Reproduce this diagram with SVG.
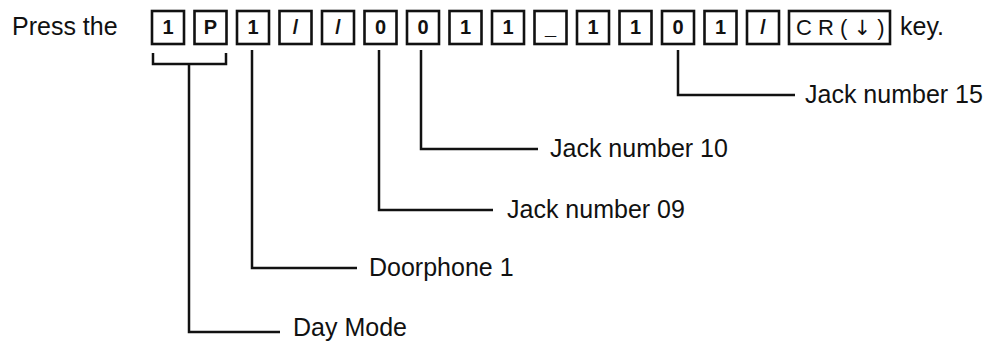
<svg xmlns="http://www.w3.org/2000/svg" width="997" height="342" viewBox="0 0 997 342">
<style>
.t{font-family:"Liberation Sans",Arial,sans-serif;font-size:25px;fill:#111}
.k{fill:#fff;stroke:#111;stroke-width:2.6}
.kt{font-family:"Liberation Sans",Arial,sans-serif;font-size:20px;font-weight:bold;fill:#111;text-anchor:middle}
.cr{font-family:"Liberation Sans",sans-serif;font-size:22px;fill:#111}
.ar{font-family:"DejaVu Sans",sans-serif;fill:#111}
.c{fill:none;stroke:#111;stroke-width:2.5}
</style>
<rect width="997" height="342" fill="#fff"/>
<g id="prefix"><text class="t" x="12" y="35">Press the</text></g>
<g id="keys">
<g id="k1"><rect class="k" x="152" y="11" width="32" height="33"/><text class="kt" x="168" y="34">1</text></g>
<g id="k2"><rect class="k" x="194.5" y="11" width="32" height="33"/><text class="kt" x="210.5" y="34">P</text></g>
<g id="k3"><rect class="k" x="237" y="11" width="32" height="33"/><text class="kt" x="253" y="34">1</text></g>
<g id="k4"><rect class="k" x="279.5" y="11" width="32" height="33"/><text class="kt" x="295.5" y="34">/</text></g>
<g id="k5"><rect class="k" x="322" y="11" width="32" height="33"/><text class="kt" x="338" y="34">/</text></g>
<g id="k6"><rect class="k" x="364.5" y="11" width="32" height="33"/><text class="kt" x="380.5" y="34">0</text></g>
<g id="k7"><rect class="k" x="407" y="11" width="32" height="33"/><text class="kt" x="423" y="34">0</text></g>
<g id="k8"><rect class="k" x="449.5" y="11" width="32" height="33"/><text class="kt" x="465.5" y="34">1</text></g>
<g id="k9"><rect class="k" x="492" y="11" width="32" height="33"/><text class="kt" x="508" y="34">1</text></g>
<g id="k10"><rect class="k" x="534.5" y="11" width="32" height="33"/><text class="kt" x="550.5" y="34">_</text></g>
<g id="k11"><rect class="k" x="577" y="11" width="32" height="33"/><text class="kt" x="593" y="34">1</text></g>
<g id="k12"><rect class="k" x="619.5" y="11" width="32" height="33"/><text class="kt" x="635.5" y="34">1</text></g>
<g id="k13"><rect class="k" x="662" y="11" width="32" height="33"/><text class="kt" x="678" y="34">0</text></g>
<g id="k14"><rect class="k" x="704.5" y="11" width="32" height="33"/><text class="kt" x="720.5" y="34">1</text></g>
<g id="k15"><rect class="k" x="747" y="11" width="32" height="33"/><text class="kt" x="763" y="34">/</text></g>
<g id="kcr"><rect class="k" x="789" y="11" width="101" height="33"/><text class="cr" x="796" y="35">C R ( <tspan class="ar" font-size="21">↓</tspan> )</text></g>
</g>
<g id="suffix"><text class="t" x="900" y="35">key.</text></g>
<g id="connectors">
<path class="c" d="M153,53 V64 H226 V53 M189,64 V332 H280"/>
<path class="c" d="M252,50 V268 H357"/>
<path class="c" d="M379,50 V210 H493"/>
<path class="c" d="M421,50 V149 H538"/>
<path class="c" d="M678,50 V95 H795"/>
</g>
<g id="labels">
<g id="l15"><text class="t" x="805" y="103">Jack number 15</text></g>
<g id="l10"><text class="t" x="550" y="157">Jack number 10</text></g>
<g id="l09"><text class="t" x="507" y="218">Jack number 09</text></g>
<g id="ldoor"><text class="t" x="369" y="276">Doorphone 1</text></g>
<g id="lday"><text class="t" x="293" y="336">Day Mode</text></g>
</g>
</svg>
